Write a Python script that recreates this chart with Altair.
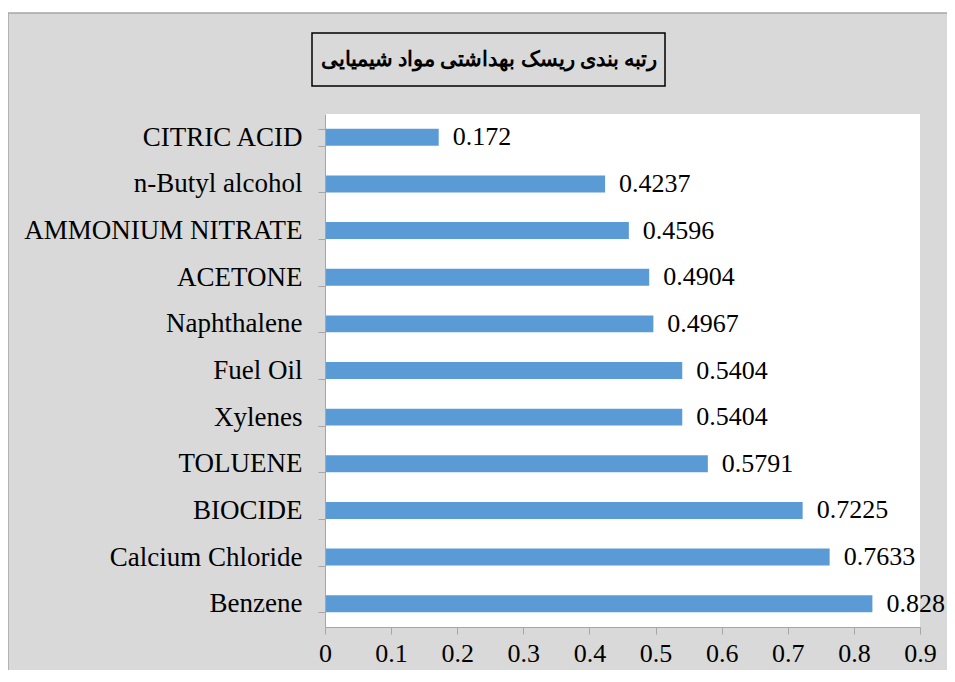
import altair as alt
import pandas as pd

chemicals = ["CITRIC ACID", "n-Butyl alcohol", "AMMONIUM NITRATE", "ACETONE", "Naphthalene",
             "Fuel Oil", "Xylenes", "TOLUENE", "BIOCIDE", "Calcium Chloride", "Benzene"]
scores = [0.172, 0.4237, 0.4596, 0.4904, 0.4967, 0.5404, 0.5404, 0.5791, 0.7225, 0.7633, 0.828]
x_ticks = [0, 0.1, 0.2, 0.3, 0.4, 0.5, 0.6, 0.7, 0.8, 0.9]
title_text = "رتبه بندی ریسک بهداشتی مواد شیمیایی"

W, H = 595, 513
FONT = "Liberation Serif"
BAR = "#5b9bd5"
GRAY_BG = "#d9d9d9"
AXIS_C = "#a6a6a6"

df = pd.DataFrame({"chemical": chemicals, "score": scores})

x_enc = alt.X("score:Q",
              scale=alt.Scale(domain=[0, 0.9], nice=False, zero=True),
              axis=alt.Axis(values=x_ticks, format="~g", title=None, grid=False,
                            domainColor=AXIS_C, tickColor=AXIS_C, tickSize=7,
                            labelFont=FONT, labelFontSize=26, labelColor="black",
                            labelPadding=6, zindex=1, labelFlush=False))
y_enc = alt.Y("chemical:N", sort=chemicals,
              scale=alt.Scale(paddingInner=0.636, paddingOuter=0.318),
              axis=alt.Axis(title=None, tickBand="extent", tickSize=7, labelPadding=16,
                            domainColor=AXIS_C, tickColor=AXIS_C,
                            labelFont=FONT, labelFontSize=27, labelColor="black",
                            labelLimit=400, zindex=1))

one = alt.Data(values=[{}])

bg = alt.Chart(one).mark_rect(fill=GRAY_BG, stroke=AXIS_C, strokeWidth=1.5).encode(
    x=alt.value(-317), x2=alt.value(800), y=alt.value(-101), y2=alt.value(800))
plot_bg = alt.Chart(one).mark_rect(fill="white").encode(
    x=alt.value(0), x2=alt.value(W), y=alt.value(0), y2=alt.value(H))
title_box = alt.Chart(one).mark_rect(fillOpacity=0, stroke="black", strokeWidth=1.5).encode(
    x=alt.value(-13), x2=alt.value(340), y=alt.value(-81), y2=alt.value(-28))
title = alt.Chart(one).mark_text(text=title_text, font=FONT, fontWeight="bold", fontSize=21,
                                 align="center", baseline="middle", color="black").encode(
    x=alt.value(164), y=alt.value(-54))

bars = alt.Chart(df).mark_bar(color=BAR).encode(x=x_enc, y=y_enc)
labels = alt.Chart(df).mark_text(align="left", baseline="middle", dx=14, font=FONT,
                                 fontSize=26, color="black").encode(
    x="score:Q", y=alt.Y("chemical:N", sort=chemicals),
    text=alt.Text("score:Q", format="~g"))

chart = alt.layer(bg, plot_bg, title_box, title, bars, labels).properties(
    width=W, height=H,
    autosize=alt.AutoSizeParams(type="none"),
    padding={"left": 317, "top": 106, "right": 27, "bottom": 43},
    background="white",
).configure_view(stroke=None)

chart.save("out.html", embed_options={"renderer": "svg", "actions": False})
